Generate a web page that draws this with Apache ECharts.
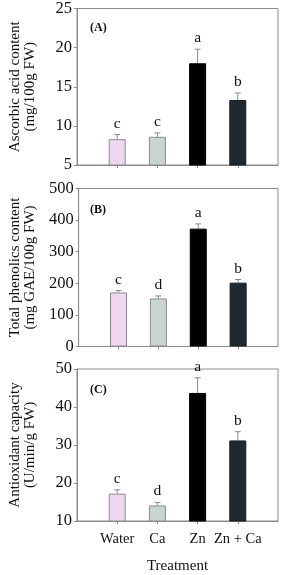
<!DOCTYPE html>
<html>
<head>
<meta charset="utf-8">
<script src="https://cdn.jsdelivr.net/npm/echarts@6/dist/echarts.min.js"></script>
<style>
html,body{margin:0;padding:0;background:#fff;}
#c{width:283px;height:575px;}
</style>
</head>
<body>
<div id="c"></div>
<script>
// ---- data ----
const categories = ['Water', 'Ca', 'Zn', 'Zn + Ca'];
const xPositions = [1, 2, 3, 4];

const ascorbicMean = [8.3, 8.6, 18.0, 13.3];
const ascorbicErrTop = [8.9, 9.1, 19.8, 14.2];
const ascorbicLetters = ['c', 'c', 'a', 'b'];

const phenolicsMean = [171, 152, 373, 202];
const phenolicsErrTop = [177, 160, 388, 212];
const phenolicsLetters = ['c', 'd', 'a', 'b'];

const antioxMean = [17.2, 14.1, 43.7, 31.2];
const antioxErrTop = [18.2, 14.9, 47.7, 33.5];
const antioxLetters = ['c', 'd', 'a', 'b'];

const yTicksA = {min: 5, max: 25, interval: 5};
const yTicksB = {min: 0, max: 500, interval: 100};
const yTicksC = {min: 10, max: 50, interval: 10};

const panelLabels = ['(A)', '(B)', '(C)'];
const yTitles = [
  'Ascorbic acid content\n(mg/100g FW)',
  'Total phenolics content\n(mg GAE/100g FW)',
  'Antioxidant capacity\n(U/min/g FW)'
];
const xTitle = 'Treatment';

// ---- styles ----
const FONT = 'Liberation Serif';
const barFills = ['#f0d7f1', '#c9d3cf', '#000000', '#1e2a2f'];
const barBorders = ['#8a8a8a', '#8a8a8a', '#000000', '#141c20'];
const axisColor = '#8c8c8c';
const errColor = '#8a8a8a';

const grids = [
  {left: 67, top: 7, width: 211, height: 158},
  {left: 67, top: 188.5, width: 211, height: 158},
  {left: 67, top: 369, width: 211, height: 159}
];

const means = [ascorbicMean, phenolicsMean, antioxMean];
const errTops = [ascorbicErrTop, phenolicsErrTop, antioxErrTop];
const letters = [ascorbicLetters, phenolicsLetters, antioxLetters];
const yRanges = [yTicksA, yTicksB, yTicksC];

const option = {
  animation: false,
  backgroundColor: '#fff',
  grid: grids.map(g => Object.assign({show: true, borderColor: axisColor, borderWidth: 1, backgroundColor: 'transparent'}, g)),
  xAxis: grids.map((g, i) => ({
    type: 'value', gridIndex: i, min: 0, max: 5, interval: 1,
    splitLine: {show: false},
    axisLine: {show: true, lineStyle: {color: axisColor, width: 1}},
    axisTick: {show: true, inside: false, length: 3, customValues: xPositions, lineStyle: {color: axisColor}},
    axisLabel: {
      show: i === 2, customValues: xPositions, margin: 11,
      fontFamily: FONT, fontSize: 14.5, color: '#111',
      formatter: v => categories[xPositions.indexOf(v)] || ''
    },
    name: i === 2 ? xTitle : '', nameLocation: 'middle', nameGap: 38,
    nameTextStyle: {fontFamily: FONT, fontSize: 15, color: '#111'}
  })),
  yAxis: grids.map((g, i) => ({
    type: 'value', gridIndex: i,
    min: yRanges[i].min, max: yRanges[i].max, interval: yRanges[i].interval,
    splitLine: {show: false},
    axisLine: {show: true, lineStyle: {color: axisColor, width: 1}},
    axisTick: {show: true, inside: false, length: 3, lineStyle: {color: axisColor}},
    axisLabel: {margin: 5, fontFamily: FONT, fontSize: 16.5, color: '#111'},
    name: yTitles[i], nameLocation: 'middle', nameRotate: 90, nameGap: 39,
    nameTextStyle: {fontFamily: FONT, fontSize: 15, lineHeight: 15, color: '#111'}
  })),
  series: []
};

for (let i = 0; i < 3; i++) {
  option.series.push({
    type: 'bar', xAxisIndex: i, yAxisIndex: i, barWidth: 17, clip: true,
    data: means[i].map((v, k) => ({
      value: [xPositions[k], v],
      itemStyle: {color: barFills[k], borderColor: barBorders[k], borderWidth: 1}
    }))
  });
  const errData = means[i].map((v, k) => [xPositions[k], v, errTops[i][k], k]);
  const lts = letters[i];
  option.series.push({
    type: 'custom', xAxisIndex: i, yAxisIndex: i, clip: false,
    data: errData,
    renderItem: function (params, api) {
      const x = api.value(0), m = api.value(1), t = api.value(2), k = api.value(3);
      const p0 = api.coord([x, m]);
      const p1 = api.coord([x, t]);
      return {
        type: 'group',
        children: [
          {type: 'line', shape: {x1: p0[0], y1: p0[1], x2: p1[0], y2: p1[1]}, style: {stroke: errColor, lineWidth: 1}},
          {type: 'line', shape: {x1: p1[0] - 3, y1: p1[1], x2: p1[0] + 3, y2: p1[1]}, style: {stroke: errColor, lineWidth: 1}},
          {type: 'text', x: p1[0], y: p1[1] - 3, style: {text: lts[k], fontFamily: FONT, fontSize: 15.5, fill: '#111', align: 'center', verticalAlign: 'bottom'}}
        ]
      };
    }
  });
}

option.graphic = grids.map((g, i) => ({
  type: 'text', left: 90, top: g.top + 15,
  style: {text: panelLabels[i], fontFamily: FONT, fontSize: 12, fontWeight: 'bold', fill: '#111'}
}));

const chart = echarts.init(document.getElementById('c'), null, {renderer: 'canvas'});
chart.setOption(option);
</script>
</body>
</html>
